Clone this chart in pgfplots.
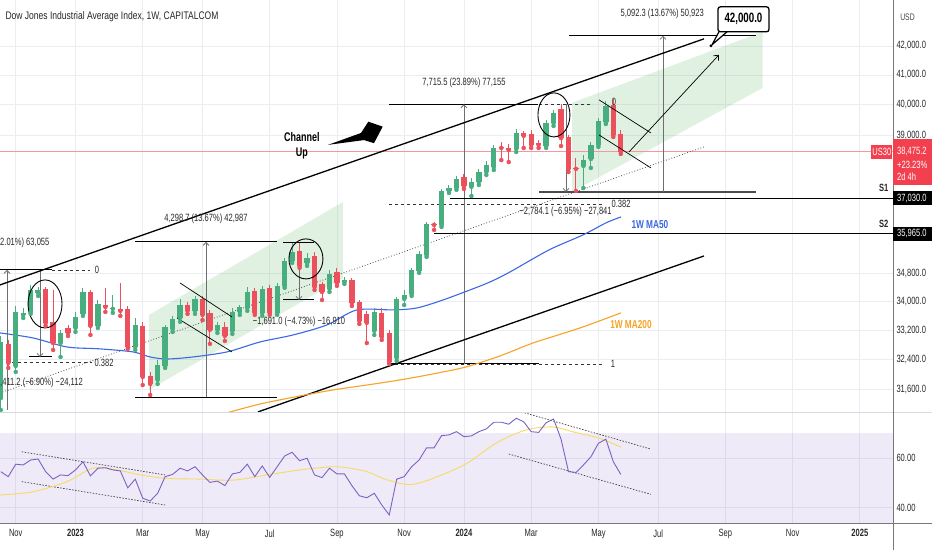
\documentclass[border=0pt]{standalone}
\usepackage{pgfplots}
\pgfplotsset{compat=1.18}
\usepackage{pgfplotstable}
\usepackage{fontspec}
\setmainfont{Liberation Sans}
\newfontfamily\tvf[FakeStretch=0.72]{Liberation Sans}
\newfontfamily\tvt[FakeStretch=0.775]{Liberation Sans}
\usetikzlibrary{arrows.meta}
\definecolor{cg}{RGB}{72,174,128}
\definecolor{cr}{RGB}{236,80,92}
\definecolor{ma50}{RGB}{60,105,225}
\definecolor{ma200}{RGB}{246,163,38}
\definecolor{rsil}{RGB}{124,98,196}
\definecolor{rsima}{RGB}{247,218,100}
\definecolor{gridc}{RGB}{234,237,242}
\definecolor{tvtext}{RGB}{40,40,40}
\definecolor{tvred}{RGB}{242,64,78}
\definecolor{lavb}{RGB}{126,87,194}
\definecolor{bandg}{RGB}{76,175,80}
\definecolor{mgray}{RGB}{110,110,110}
\definecolor{axgray}{RGB}{120,120,120}
\definecolor{sepgray}{RGB}{215,218,225}
\newcommand{\fs}{\tvf\fontsize{10.5}{12.5}\selectfont}
\newcommand{\fb}{\tvf\bfseries\fontsize{10.5}{12.5}\selectfont}

% weekly candles, w = weeks since 2 Jan 2023
\pgfplotstableread{
w o h l c
-10 31382 33036 31073 32872
-8 32225 33867 32066 33700
-7 33616 33811 33532 33672
-6 33700 34461 33644 34319
-5 34234 34404 34149 34319
-2 32845 33201 32466 33119
0 33256 33700 33146 33560
1 33644 34376 33588 34262
3 33311 34035 33256 33923
5 33783 34177 33672 33811
8 32737 33532 32656 33339
11 31853 32385 31748 32252
12 32225 33339 32172 33283
13 33228 33588 33146 33504
14 33532 34063 33421 33895
16 33728 34149 33644 34063
19 33201 33421 33119 33339
21 33174 33811 33091 33700
22 33700 33895 33616 33839
23 33811 34404 33728 34262
25 33672 34433 33588 34347
27 33672 34518 33616 34433
28 34433 35240 34376 35152
29 35152 35680 35094 35416
31 35094 35387 35008 35240
34 34347 34892 34262 34776
36 34546 34690 34489 34603
40 33174 33811 33064 33700
43 32440 34120 32358 34063
44 34063 34319 33895 34177
45 34205 34950 34149 34892
46 34863 35445 34805 35357
47 35328 36306 35269 36246
49 36217 37313 36157 37251
50 37251 37437 37189 37344
51 37344 37716 37282 37622
53 37375 37654 37097 37529
54 37529 37935 37437 37841
55 37841 38186 37748 38060
56 37998 38696 37904 38600
59 38568 39212 38473 39083
63 38664 39504 38600 39407
64 39407 39834 39310 39735
68 38029 38377 37344 38217
69 38249 38792 37967 38696
70 38696 39570 38632 39472
71 39439 40131 39374 39966
}\gtab
\pgfplotstableread{
w o h l c
-9 32818 32926 32172 32305
-4 34347 34404 33311 33394
-3 33421 34319 32656 32845
-1 33256 33339 33036 33119
2 34262 34319 33064 33311
4 33895 34376 33700 33839
6 33783 34518 33588 33728
7 33783 33867 32683 32737
9 33311 33421 31722 31933
10 31960 32066 31461 31748
15 33895 33979 33644 33728
17 34063 34149 33476 33616
18 33672 33756 32818 33201
20 33283 33421 32899 33036
24 34291 34376 33616 33672
26 34376 34461 33616 33672
30 35445 35680 34950 35008
32 35298 35416 34319 34404
33 34489 34546 34035 34262
35 34834 34950 34433 34518
37 34603 34661 33867 33951
38 33979 34035 33366 33449
39 33644 33728 32845 33394
41 33672 33811 32926 33009
42 33119 33201 32279 32332
48 36246 36306 36067 36217
52 37685 37779 37313 37406
57 38632 38792 38217 38600
58 38600 38728 38154 38537
60 39083 39148 38600 38986
61 39050 39180 38600 38696
62 38760 38856 38600 38696
65 39867 40032 38664 38921
66 38953 39018 37841 37935
67 37967 38281 37251 37935
72 39999 40197 38953 39018
73 39050 39180 38409 38475
}\rtab
\pgfplotstableread{
w v
-10.1 33119
-5.69 32981
-1.14 32737
3.28 32683
7.70 32602
9.97 32466
12.25 32412
15.73 32466
20.28 32602
24.70 32872
29.12 33064
33.67 33339
37.68 33756
42.50 33756
45.72 33811
49.20 34035
52.81 34319
55.49 34546
58.17 34834
63.39 35474
67.94 35917
71.02 36276
73.03 36458
}\mafifty
\pgfplotstableread{
w v
20.28 31000
24.70 31227
30.09 31435
34.47 31592
39.02 31722
43.44 31853
47.86 32013
52.27 32199
56.83 32493
61.24 32845
67.54 33256
73.03 33672
}\matwo
\pgfplotstableread{
w v
-10 54.5
-9 52.5
-8 57.5
-7 57.2
-6 59.2
-5 59.6
-4 54.5
-3 51.5
-2 53.2
-1 52.9
0 55.2
1 58.5
2 52.8
3 55.9
4 56.1
5 55.2
6 54.8
7 48.0
8 51.5
9 43.8
10 42.7
11 45.8
12 52.5
13 53.4
14 55.9
15 54.8
16 56.5
17 53.2
18 50.2
19 50.7
20 48.9
21 53.6
22 54.2
23 57.5
24 52.5
25 56.8
26 52.2
27 56.5
28 60.8
29 62.3
30 58.9
31 59.9
32 53.2
33 52.1
34 55.9
35 53.6
36 53.6
37 48.9
38 44.8
39 44.0
40 45.8
41 41.1
42 37.1
43 51.5
44 52.5
45 56.5
46 59.2
47 64.1
48 64.1
49 69.0
50 69.3
51 70.6
52 68.6
53 68.9
54 70.6
55 71.7
56 74.4
57 74.4
58 73.6
59 76.0
60 74.6
61 70.6
62 70.3
63 74.2
64 75.7
65 67.6
66 54.5
67 54.2
68 57.2
69 60.5
70 65.9
71 67.6
72 58.5
73 53.4
}\rsitab
\pgfplotstableread{
w v
-10.1 45.1
-5.69 46.4
-1.14 50.5
2.34 55.9
5.55 55.2
8.63 53.2
12.25 51.8
16.67 51.5
21.08 51.1
25.64 53.2
30.05 55.2
34.47 56.5
36.75 55.9
39.02 54.5
41.16 51.8
43.44 49.8
45.18 49.4
47.86 51.8
52.27 57.6
56.29 66.0
60.31 71.3
63.92 72.5
66.60 70.5
70.08 68.0
73.03 64.4
}\rsimatab

\begin{document}
\begin{tikzpicture}
\fill[white] (0pt,0pt) rectangle (932pt,-550pt);
\useasboundingbox (0pt,0pt) rectangle (932pt,-550pt);

\begin{axis}[
  at={(0pt,0pt)}, anchor=north west,
  scale only axis, width=893pt, height=412pt,
  xmin=-10.107, xmax=109.44,
  ymode=log, ymin=31023, ymax=43630,
  axis line style={draw=none},
  tick style={draw=none},
  xtick={-8,0,9,17,26,35,44,52,61,70,78,87,96,105},
  xticklabels={},
  ytick={31600,32400,33200,34000,34800,39000,40000,41000,42000},
  yticklabels={{31,600.0},{32,400.0},{33,200.0},{34,000.0},{34,800.0},{39,000.0},{40,000.0},{41,000.0},{42,000.0}},
  yticklabel pos=right,
  yticklabel style={font=\fs, text=tvtext, anchor=west},
  grid=major, major grid style={draw=gridc, line width=0.7pt},
  clip=true,
]
% shaded projection channels
\addplot[draw=none, fill=bandg, fill opacity=0.17] coordinates {(9.84,33616) (35.81,36912) (35.81,34661) (9.84,31592)};
\addplot[draw=none, fill=bandg, fill opacity=0.17] coordinates {(66.47,40065) (92.0,42490) (92.0,40565) (66.47,37220)};
% last price line
\addplot[tvred!55, line width=0.6pt] coordinates {(-10.107,38475.2) (109.44,38475.2)};
% fib dashed levels
\addplot[black!80, line width=0.7pt, dash pattern=on 3pt off 3pt] coordinates {(-3.15,34892) (1.94,34892)};
\addplot[black!80, line width=0.7pt, dash pattern=on 3pt off 3pt] coordinates {(-10.107,32332) (2.21,32332)};
\addplot[black!80, line width=0.7pt, dash pattern=on 3pt off 3pt] coordinates {(41.97,40016) (69.0,40016)};
\addplot[black!80, line width=0.7pt, dash pattern=on 3pt off 3pt] coordinates {(41.97,36852) (70.75,36852)};
\addplot[black!80, line width=0.7pt, dash pattern=on 3pt off 3pt] coordinates {(41.97,32279) (70.75,32279)};
% measurement caps
\addplot[black, line width=1pt] coordinates {(-10.107,34892) (-3.15,34892)};
\addplot[black, line width=1pt] coordinates {(-6.22,32466) (-3.15,32466)};
\addplot[black, line width=1pt] coordinates {(7.97,35709) (26.97,35709)};
\addplot[black, line width=1pt] coordinates {(7.97,31408) (26.97,31408)};
\addplot[black, line width=1pt] coordinates {(27.78,35680) (31.93,35680)};
\addplot[black, line width=1pt] coordinates {(27.78,34035) (31.93,34035)};
\addplot[black, line width=1pt] coordinates {(41.97,40016) (61.91,40016)};
\addplot[black, line width=1pt] coordinates {(41.97,32279) (62.05,32279)};
\addplot[black!70, line width=1.4pt] coordinates {(62.05,37220) (91.1,37220)};
\addplot[black, line width=1pt] coordinates {(66.06,42349) (91.1,42349)};
% measurement verticals
\addplot[mgray, line width=0.8pt, -{Straight Barb[length=3pt,width=6pt]}] coordinates {(-9.17,31073) (-9.17,34892)};
\addplot[mgray, line width=0.8pt, -{Straight Barb[length=3pt,width=6pt]}] coordinates {(-4.75,34892) (-4.75,32466)};
\addplot[mgray, line width=0.8pt, -{Straight Barb[length=3pt,width=6pt]}] coordinates {(17.47,31408) (17.47,35709)};
\addplot[mgray, line width=0.8pt, -{Straight Barb[length=3pt,width=6pt]}] coordinates {(29.92,35680) (29.92,34035)};
\addplot[mgray, line width=0.8pt, -{Straight Barb[length=3pt,width=6pt]}] coordinates {(52.0,32279) (52.0,40016)};
\addplot[mgray, line width=0.8pt, -{Straight Barb[length=3pt,width=6pt]}] coordinates {(65.66,40016) (65.66,37220)};
\addplot[mgray, line width=0.8pt, -{Straight Barb[length=3pt,width=6pt]}] coordinates {(78.65,37220) (78.65,42349)};
% channel lines
\addplot[black, line width=1.3pt] coordinates {(-10.107,34461) (84.14,42244)};
\addplot[black, line width=1.3pt] coordinates {(24.43,31022) (84.14,35298)};
\addplot[black!70, line width=0.8pt, dotted] coordinates {(-10.107,31513) (84.14,38632)};
% supports
\addplot[black, line width=1.2pt] coordinates {(50.13,37030) (109.44,37030)};
\addplot[black, line width=1.2pt] coordinates {(48.0,35965) (109.44,35965)};
% moving averages
\addplot[ma50, line width=1.1pt, smooth] table[x=w,y=v] {\mafifty};
\addplot[ma200, line width=1.1pt, smooth] table[x=w,y=v] {\matwo};
% candles: wicks
\addplot[cg, only marks, mark=none, error bars/.cd, y dir=plus, y explicit, error mark=none,
  error bar style={draw=cg, line width=1pt}] table[x=w, y=l, y error expr=\thisrow{h}-\thisrow{l}] {\gtab};
\addplot[cr, only marks, mark=none, error bars/.cd, y dir=plus, y explicit, error mark=none,
  error bar style={draw=cr, line width=1pt}] table[x=w, y=l, y error expr=\thisrow{h}-\thisrow{l}] {\rtab};
% candles: bodies
\addplot[cg, only marks, mark=none, error bars/.cd, y dir=plus, y explicit, error mark=none,
  error bar style={draw=cg, line width=5.3pt}] table[x=w, y=o, y error expr=\thisrow{c}-\thisrow{o}] {\gtab};
\addplot[cr, only marks, mark=none, error bars/.cd, y dir=plus, y explicit, error mark=none,
  error bar style={draw=cr, line width=5.3pt}] table[x=w, y=c, y error expr=\thisrow{o}-\thisrow{c}] {\rtab};
% flags
\addplot[black, line width=0.7pt] coordinates {(13.99,34518) (20.95,33560)};
\addplot[black, line width=0.7pt] coordinates {(13.59,33532) (20.95,32602)};
\addplot[black, line width=0.7pt] coordinates {(70.08,40164) (77.04,39083)};
\addplot[black, line width=0.7pt] coordinates {(70.08,39018) (77.04,37967)};
% projection arrow
\addplot[black, line width=0.7pt, -{Straight Barb[length=4pt,width=7pt]}] coordinates {(74.09,38473) (86.14,41688)};
% circles
\draw[black, line width=0.9pt] (axis cs:-4.08,33923) ellipse [x radius=17pt, y radius=24pt];
\draw[black, line width=0.9pt] (axis cs:30.85,35210) ellipse [x radius=17pt, y radius=20pt];
\draw[black, line width=0.9pt] (axis cs:64.05,39669) ellipse [x radius=16pt, y radius=22pt];
% channel up arrow
\fill[black, line join=round] (axis cs:33.80,38696) -- (axis cs:38.62,38856) -- (axis cs:39.96,38751) -- (axis cs:41.12,39287) -- (axis cs:39.20,39449) -- (axis cs:38.22,39083) -- cycle;
\node[align=center, font=\tvf\bfseries\fontsize{12.5}{15}\selectfont, text=black] at (axis cs:30.3,38680) {Channel\\Up};
% callout
\filldraw[fill=white, draw=black, line width=1.2pt, line join=round] (axis cs:86.14,42490) -- (axis cs:85.21,42035) -- (axis cs:87.21,42490);
\node[draw=black, line width=1.3pt, rounded corners=2.5pt, fill=white, minimum width=51pt, minimum height=25pt, inner sep=0pt, font=\tvf\bfseries\fontsize{13.5}{15}\selectfont] at (axis cs:89.42,42932) {42,000.0};
\fill[black] (axis cs:85.07,42000) circle[radius=1.6pt];
% texts
\node[anchor=west, inner sep=0pt, font=\fs, text=tvtext] at (axis cs:-10.107,35680) {2.01\%) 63,055};
\node[anchor=west, inner sep=0pt, font=\fs, text=tvtext] at (axis cs:-10.107,31775) {,411.2 (−6.90\%) −24,112};
\node[font=\fs, text=tvtext] at (axis cs:17.47,36396) {4,298.7 (13.67\%) 42,987};
\node[font=\fs, text=tvtext] at (axis cs:29.92,33421) {−1,691.0 (−4.73\%) −16,910};
\node[font=\fs, text=tvtext] at (axis cs:52.0,40733) {7,715.5 (23.89\%) 77,155};
\node[font=\fs, text=tvtext] at (axis cs:65.6,36609) {−2,784.1 (−6.95\%) −27,841};
\node[font=\fs, text=tvtext] at (axis cs:78.55,43127) {5,092.3 (13.67\%) 50,923};
\node[font=\fs, text=tvtext] at (axis cs:2.88,34892) {0};
\node[font=\fs, text=tvtext] at (axis cs:3.82,32319) {0.382};
\node[font=\fs, text=tvtext] at (axis cs:72.09,40098) {0};
\node[font=\fs, text=tvtext] at (axis cs:73.03,36852) {0.382};
\node[font=\fs, text=tvtext] at (axis cs:71.96,32279) {1};
\node[font=\tvf\bfseries\fontsize{11.5}{13}\selectfont, text=ma50] at (axis cs:76.9,36217) {1W MA50};
\node[font=\tvf\bfseries\fontsize{11.5}{13}\selectfont, text=ma200] at (axis cs:74.36,33339) {1W MA200};
\node[font=\fb, text=tvtext] at (axis cs:108.2,37344) {S1};
\node[font=\fb, text=tvtext] at (axis cs:108.2,36246) {S2};
\coordinate (L1) at (axis cs:109.44,38475.2);
\coordinate (L2) at (axis cs:109.44,37030);
\coordinate (L3) at (axis cs:109.44,35965);
\coordinate (U30) at (axis cs:107.95,38475.2);
\end{axis}

\begin{axis}[
  at={(0pt,-412pt)}, anchor=north west,
  scale only axis, width=893pt, height=111pt,
  xmin=-10.107, xmax=109.44, ymin=33.84, ymax=78.51,
  axis line style={draw=none}, tick style={draw=none},
  xtick={-8,0,9,17,26,35,44,52,61,70,78,87,96,105},
  xticklabels={Nov,\textbf{2023},Mar,May,Jul,Sep,Nov,\textbf{2024},Mar,May,Jul,Sep,Nov,\textbf{2025}},
  xticklabel style={font=\fs, text=tvtext, yshift=-3pt},
  ytick={40,60}, yticklabels={40.00,60.00},
  yticklabel pos=right,
  yticklabel style={font=\fs, text=tvtext, anchor=west},
  grid=major, major grid style={draw=gridc, line width=0.7pt},
]
\fill[lavb, fill opacity=0.12] (axis cs:-10.107,30) rectangle (axis cs:109.44,70);
\addplot[black!75, line width=0.7pt, dash pattern=on 1.5pt off 1.5pt] coordinates {(-7.2,62.5) (12.0,53.2)};
\addplot[black!75, line width=0.7pt, dash pattern=on 1.5pt off 1.5pt] coordinates {(-7.2,50.5) (12.0,41.1)};
\addplot[black!75, line width=0.7pt, dash pattern=on 1.5pt off 1.5pt] coordinates {(60.1,78.2) (77.0,63.6)};
\addplot[black!75, line width=0.7pt, dash pattern=on 1.5pt off 1.5pt] coordinates {(58.0,61.6) (77.0,45.4)};
\addplot[rsima, line width=0.9pt, smooth] table[x=w,y=v] {\rsimatab};
\addplot[rsil, line width=0.9pt] table[x=w,y=v] {\rsitab};
\end{axis}

% panel borders
\draw[sepgray, line width=0.8pt] (0pt,-412pt) -- (932pt,-412pt);
\draw[axgray, line width=0.8pt] (0pt,-523pt) -- (932pt,-523pt);
\draw[axgray, line width=0.8pt] (893pt,0pt) -- (893pt,-550pt);
% price scale labels
\fill[tvred] ([yshift=13pt]L1) rectangle ([xshift=39pt,yshift=-33pt]L1);
\node[anchor=west, text=white, font=\fs, inner sep=0pt] at ([xshift=4pt]L1) {38,475.2};
\node[anchor=west, text=white, font=\fs, inner sep=0pt] at ([xshift=4pt,yshift=-12.5pt]L1) {+23.23\%};
\node[anchor=west, text=white, font=\fs, inner sep=0pt] at ([xshift=4pt,yshift=-25pt]L1) {2d 4h};
\node[fill=tvred, text=white, font=\fs, minimum width=21pt, minimum height=14pt, inner sep=0pt] at (U30) {US30};
\fill[black] ([yshift=7pt]L2) rectangle ([xshift=39pt,yshift=-7pt]L2);
\node[anchor=west, text=white, font=\fs, inner sep=0pt] at ([xshift=4pt]L2) {37,030.0};
\fill[black] ([yshift=7pt]L3) rectangle ([xshift=39pt,yshift=-7pt]L3);
\node[anchor=west, text=white, font=\fs, inner sep=0pt] at ([xshift=4pt]L3) {35,965.0};
% title
\node[anchor=west, font=\tvt\fontsize{11}{13}\selectfont, text=tvtext] at (2pt,-17pt) {Dow Jones Industrial Average Index, 1W, CAPITALCOM};
\node[font=\tvf\fontsize{9.5}{11}\selectfont, text=tvtext!85] at (907.5pt,-17pt) {USD};
\end{tikzpicture}
\end{document}
